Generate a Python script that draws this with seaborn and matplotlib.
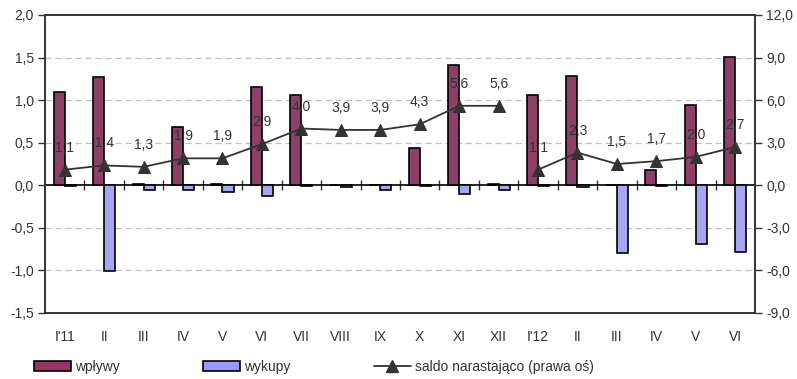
import numpy as np
import pandas as pd
import matplotlib
matplotlib.use("Agg")
import matplotlib.pyplot as plt
from matplotlib.ticker import FuncFormatter, MultipleLocator
from matplotlib.patches import Patch
from matplotlib.lines import Line2D
import seaborn as sns

# Monthly data (PLN bn)
months = ["I'11", "II", "III", "IV", "V", "VI", "VII", "VIII", "IX", "X", "XI", "XII",
          "I'12", "II", "III", "IV", "V", "VI"]
wplywy = [1.09, 1.27, 0.01, 0.69, 0.01, 1.15, 1.06, 0.0, 0.0, 0.44, 1.41, 0.01,
          1.06, 1.28, 0.0, 0.18, 0.94, 1.51]
wykupy = [-0.01, -1.01, -0.06, -0.06, -0.08, -0.13, -0.01, -0.02, -0.06, -0.01, -0.10, -0.05,
          -0.01, -0.02, -0.80, -0.01, -0.69, -0.78]
# cumulative balance, restarting each year (right axis)
saldo = [1.1, 1.4, 1.3, 1.9, 1.9, 2.9, 4.0, 3.9, 3.9, 4.3, 5.6, 5.6,
         1.1, 2.3, 1.5, 1.7, 2.0, 2.7]
year = [2011] * 12 + [2012] * 6

series_names = ["wpływy", "wykupy"]
line_name = "saldo narastająco (prawa oś)"
bar_colors = ["#993366", "#9999FF"]
text_color = "#333333"
fs = 10

sns.set_theme(style="white")
plt.rcParams["font.family"] = ["Liberation Sans", "DejaVu Sans"]
plt.rcParams["text.color"] = text_color
plt.rcParams["xtick.color"] = text_color
plt.rcParams["ytick.color"] = text_color

n = len(months)
pos = np.arange(n)
bars = pd.DataFrame({
    "pos": np.concatenate([pos, pos]),
    "value": wplywy + wykupy,
    "series": [series_names[0]] * n + [series_names[1]] * n,
})
line_df = pd.DataFrame({"pos": pos, "saldo": saldo, "year": year})

fig = plt.figure(figsize=(7.97, 3.79), dpi=100)
ax = fig.add_axes([45 / 797, 1 - 313 / 379, 710 / 797, 298 / 379])

sns.barplot(data=bars, x="pos", y="value", hue="series", palette=bar_colors,
            width=0.56, edgecolor="black", linewidth=1.2, dodge=True,
            legend=False, ax=ax)

ax.set_xlim(-0.5, n - 0.5)
ax.set_ylim(-1.5, 2.0)
ax.yaxis.set_major_locator(MultipleLocator(0.5))
fmt = FuncFormatter(lambda v, _: f"{v:.1f}".replace(".", ","))
ax.yaxis.set_major_formatter(fmt)
ax.set_xticks(pos)
ax.set_xticklabels(months)
ax.set_xlabel("")
ax.set_ylabel("")
ax.tick_params(axis="x", length=0, pad=12, labelsize=fs)
ax.tick_params(axis="y", left=True, direction="out", length=5, width=1,
               color="#333333", pad=3, labelsize=fs)

# dashed horizontal gridlines
for yv in np.arange(-1.0, 2.0, 0.5):
    if abs(yv) > 1e-9:
        ax.axhline(yv, color="#c0c0c0", lw=0.9, ls=(0, (5, 3)), zorder=0)

for sp in ax.spines.values():
    sp.set_visible(True)
    sp.set_color("#333333")
    sp.set_linewidth(1.2)

# zero line with category tick marks
zero_axis = ax.secondary_xaxis(1.5 / 3.5)
zero_axis.set_xticks(np.arange(-0.5, n, 1.0)[1:-1])
zero_axis.tick_params(direction="inout", length=7, width=1, color="#333333",
                      labelbottom=False, labeltop=False)
zero_axis.spines["bottom"].set_color("black")
zero_axis.spines["bottom"].set_linewidth(1.2)

# cumulative balance on the right axis
ax2 = ax.twinx()
sns.lineplot(data=line_df, x="pos", y="saldo", units="year", estimator=None,
             color="#333333", lw=1.3, marker="^", markersize=8.5,
             markeredgecolor="#333333", ax=ax2, legend=False)
ax2.set_ylim(-9, 12)
ax2.yaxis.set_major_locator(MultipleLocator(3))
ax2.yaxis.set_major_formatter(fmt)
ax2.set_ylabel("")
ax2.tick_params(axis="y", right=True, direction="out", length=5, width=1,
                color="#333333", pad=3, labelsize=fs)
for sp in ax2.spines.values():
    sp.set_color("#333333")
    sp.set_linewidth(1.2)

for x, v in zip(pos, saldo):
    ax2.annotate(f"{v:.1f}".replace(".", ","), (x, v), xytext=(0, 22),
                 textcoords="offset pixels", ha="center", va="center",
                 fontsize=fs, color=text_color)

handles = [
    Patch(facecolor=bar_colors[0], edgecolor="black", linewidth=1.2),
    Patch(facecolor=bar_colors[1], edgecolor="black", linewidth=1.2),
    Line2D([], [], color="#333333", lw=1.3, marker="^", markersize=8.5),
]
fig.legend(handles, series_names + [line_name], loc="center left",
           bbox_to_anchor=(34 / 797, 1 - 367 / 379), ncol=3, frameon=False,
           fontsize=fs, handlelength=2.66, handleheight=0.65, handletextpad=0.3,
           columnspacing=6.0, borderpad=0, borderaxespad=0)

fig.savefig("out.png", dpi=100)
